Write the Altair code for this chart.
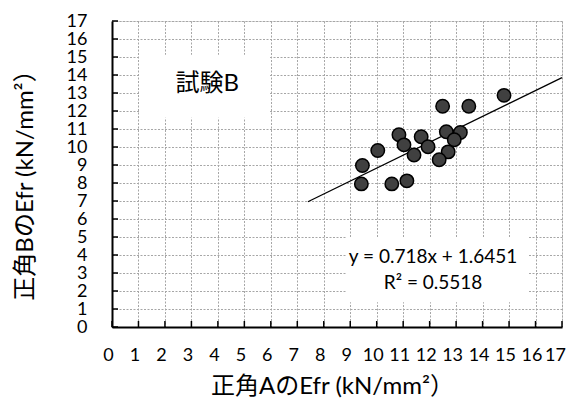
import altair as alt
import pandas as pd

# data
xa = [14.81, 12.49, 13.48, 10.84, 11.03, 11.68, 11.94, 11.41, 12.63, 13.16,
      12.93, 12.70, 12.36, 10.04, 9.46, 9.42, 10.57, 11.14]
yb = [12.87, 12.26, 12.26, 10.68, 10.12, 10.57, 10.01, 9.56, 10.85, 10.81,
      10.40, 9.73, 9.29, 9.81, 8.97, 7.95, 7.95, 8.12]

trend_x = [7.4, 17.0]
trend_y = [6.96, 13.85]

ticks = list(range(0, 18))

eq_lines = ["y = 0.718x + 1.6451", "R² = 0.5518"]
eq_x = [12.13, 12.13]
eq_y = [3.88, 2.43]
label_text = ["試験B"]
label_x = [3.6]
label_y = [13.5]

# white background boxes behind annotations (data units)
box_x = [1.05, 8.87]
box_x2 = [5.97, 15.73]
box_y = [11.63, 1.38]
box_y2 = [15.12, 5.0]

FONT = "Lato, Noto Sans CJK JP"
W, H = 450, 306

pts = pd.DataFrame({"x": xa, "y": yb})
trend = pd.DataFrame({"x": trend_x, "y": trend_y})
eq = pd.DataFrame({"t": eq_lines, "x": eq_x, "y": eq_y})
lab = pd.DataFrame({"t": label_text, "x": label_x, "y": label_y})
boxes = pd.DataFrame({"x": box_x, "x2": box_x2, "y": box_y, "y2": box_y2})
tk = pd.DataFrame({"v": ticks})

xs = alt.Scale(domain=[0, 17], nice=False, zero=False)
ys = alt.Scale(domain=[0, 17], nice=False, zero=False)

common = dict(values=ticks, ticks=False, grid=True, gridColor="#a6a6a6",
              gridDash=[2, 1.5], gridWidth=1, domainColor="black",
              domainWidth=2, labelFont=FONT, labelFontSize=18,
              labelColor="black", labelFlush=False, labelOverlap=False,
              titleFont=FONT, titleFontSize=24, titleFontWeight="normal",
              titleColor="black")

xaxis = alt.Axis(labelPadding=19, title="正角AのEfr (kN/mm²）",
                 labelOffset={"condition": {"test": "datum.value == 17", "value": -7}, "value": -4},
                 titleX=220, titleY=71, titleBaseline="bottom",
                 titleAlign="center", **common)
yaxis = alt.Axis(labelPadding=25, labelBaseline="middle",
                 title="正角BのEfr (kN/mm²）",
                 titleX=-87, titleY=158, titleBaseline="middle",
                 titleAlign="center", titleAngle=270, **common)


def X(field):
    return alt.X(field, scale=xs, axis=xaxis)


def Y(field):
    return alt.Y(field, scale=ys, axis=yaxis)


base_points = alt.Chart(pts).mark_circle(
    size=180, color="#404040", stroke="black", strokeWidth=1.5, opacity=1
).encode(x=X("x:Q"), y=Y("y:Q"))

box_layer = alt.Chart(boxes).mark_rect(color="white").encode(
    x=X("x:Q"), x2="x2:Q", y=Y("y:Q"), y2="y2:Q")

trend_layer = alt.Chart(trend).mark_line(color="black", strokeWidth=1.3).encode(
    x=X("x:Q"), y=Y("y:Q"))

eq_layer = alt.Chart(eq).mark_text(font=FONT, fontSize=19, color="black",
                                   align="center", baseline="middle").encode(
    x=X("x:Q"), y=Y("y:Q"), text="t:N")

lab_layer = alt.Chart(lab).mark_text(font=FONT, fontSize=24, color="black",
                                     align="center", baseline="middle").encode(
    x=X("x:Q"), y=Y("y:Q"), text="t:N")

xtick_layer = alt.Chart(tk).mark_rule(color="black", strokeWidth=1.5).encode(
    x=X("v:Q"), y=alt.value(H), y2=alt.value(H - 6))
ytick_layer = alt.Chart(tk).mark_rule(color="black", strokeWidth=1.5).encode(
    y=Y("v:Q"), x=alt.value(0), x2=alt.value(6))

chart = alt.layer(
    box_layer, trend_layer, base_points, eq_layer, lab_layer,
    xtick_layer, ytick_layer
).properties(
    width=W, height=H,
    autosize=alt.AutoSizeParams(type="none"),
    padding={"left": 104, "top": 13, "right": 7, "bottom": 71},
).configure_view(stroke="black", strokeWidth=2).configure_axis(
    labelOverlap=False
).configure(background="white")

chart.save("out.html", embed_options={"renderer": "svg", "actions": False})
